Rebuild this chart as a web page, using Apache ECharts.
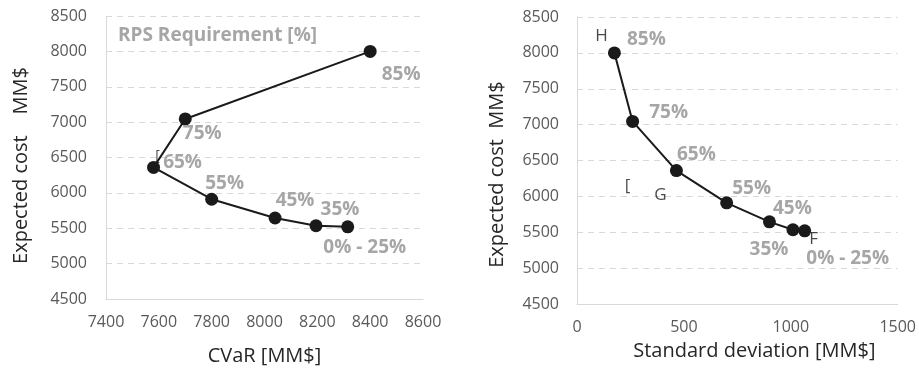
<!DOCTYPE html>
<html><head><meta charset="utf-8">
<script src="https://cdn.jsdelivr.net/npm/echarts@6/dist/echarts.min.js"></script>
<style>html,body{margin:0;padding:0;background:#fff}#c{width:919px;height:371px}</style>
</head><body><div id="c"></div>
<script>
// ---- data ----
const rpsLabels = ['85%', '75%', '65%', '55%', '45%', '35%', '0% - 25%'];
const expectedCost = [8000, 7045, 6360, 5910, 5645, 5535, 5520];
const cvar = [8400, 7700, 7580, 7800, 8040, 8195, 8315];
const stdDev = [175, 260, 465, 700, 900, 1010, 1065];
const yTicks = [4500, 5000, 5500, 6000, 6500, 7000, 7500, 8000, 8500];
const cvarTicks = [7400, 7600, 7800, 8000, 8200, 8400, 8600];
const sdTicks = [0, 500, 1000, 1500];
// point annotations: [text, index of point]
const rightNotes = [['H', 0], ['G', 2], ['[', 2], ['F', 6]];
const leftNotes = [['[', 2]];

// ---- style / placement config ----
const leftLabelOffsets = [[31, 23], [17, 15], [29, -5], [13, -16], [20, -17], [24, -16], [17, 21]];
const rightLabelOffsets = [[32, -13], [36, -9], [20, -16], [25, -14], [23, -13], [-24, 20], [43, 28]];
const rightNoteOffsets = [[-13, -17], [-16, 25], [-49, 16], [9, 8]];
const leftNoteOffsets = [[4, -11]];

const FONT = '"Open Sans", sans-serif';
const tickColor = '#595959';
const gridColor = '#d9d9d9';
const pctColor = '#a6a6a6';

function yAxisCfg(gridIndex, name, gap, pad, margin) {
  return {
    gridIndex, type: 'value', min: yTicks[0], max: yTicks[yTicks.length - 1],
    interval: yTicks[1] - yTicks[0],
    name, nameLocation: 'middle', nameGap: gap, nameRotate: 90,
    nameTextStyle: { fontFamily: FONT, fontSize: 20, color: '#262626', padding: pad },
    axisLine: { show: true, lineStyle: { color: gridColor, width: 1 } },
    axisTick: { show: false },
    axisLabel: { fontFamily: FONT, fontSize: 16, color: tickColor, margin, formatter: v => String(v) },
    splitLine: { show: true, lineStyle: { color: gridColor, type: [6, 5], width: 1 } }
  };
}
function xAxisCfg(gridIndex, ticks, name, gap, pad) {
  return {
    gridIndex, type: 'value', min: ticks[0], max: ticks[ticks.length - 1],
    interval: ticks[1] - ticks[0],
    name, nameLocation: 'middle', nameGap: gap,
    nameTextStyle: { fontFamily: FONT, fontSize: 20, color: '#262626', padding: pad },
    axisLine: { show: true, lineStyle: { color: gridColor, width: 1 } },
    axisTick: { show: false },
    axisLabel: { fontFamily: FONT, fontSize: 16, color: tickColor, margin: 15, formatter: v => String(v) },
    splitLine: { show: false }
  };
}
function mainSeries(xi, xs, offsets) {
  return {
    type: 'line', xAxisIndex: xi, yAxisIndex: xi, z: 3,
    symbol: 'circle', symbolSize: 13,
    itemStyle: { color: '#1a1a1a' },
    lineStyle: { color: '#1a1a1a', width: 2 },
    data: xs.map((x, i) => ({
      value: [x, expectedCost[i]],
      label: {
        show: true, position: 'inside', offset: offsets[i], formatter: rpsLabels[i],
        fontFamily: FONT, fontWeight: 'bold', fontSize: 19, color: pctColor
      }
    })),
    animation: false
  };
}
function noteSeries(xi, xs, notes, offsets, z, size) {
  return {
    type: 'scatter', xAxisIndex: xi, yAxisIndex: xi, z, symbolSize: 0,
    silent: true, animation: false,
    data: notes.map(([t, idx], k) => ({
      value: [xs[idx], expectedCost[idx]],
      label: {
        show: true, position: 'inside', offset: offsets[k], formatter: t,
        fontFamily: FONT, fontSize: size, color: '#1a1a1a'
      }
    }))
  };
}

const chart = echarts.init(document.getElementById('c'), null, { renderer: 'canvas' });
chart.setOption({
  backgroundColor: '#fff',
  title: {
    text: 'RPS Requirement [%]', left: 113, top: 21,
    textStyle: { fontFamily: FONT, fontWeight: 'bold', fontSize: 19, color: pctColor }
  },
  grid: [
    { left: 106, right: 496, top: 16, bottom: 70 },
    { left: 577, right: 21, top: 17, bottom: 67 }
  ],
  xAxis: [
    xAxisCfg(0, cvarTicks, 'CVaR [MM$]', 47, 0),
    xAxisCfg(1, sdTicks, 'Standard deviation [MM$]', 37, [0, 0, 0, 34])
  ],
  yAxis: [
    yAxisCfg(0, 'Expected cost    MM$', 75, [0, 16, 0, 0], 19),
    yAxisCfg(1, 'Expected cost  MM$', 70, [0, 28, 0, 0], 18)
  ],
  series: [
    noteSeries(0, cvar, leftNotes, leftNoteOffsets, 1, 14),
    mainSeries(0, cvar, leftLabelOffsets),
    mainSeries(1, stdDev, rightLabelOffsets),
    noteSeries(1, stdDev, rightNotes, rightNoteOffsets, 4, 17)
  ]
});
</script></body></html>
